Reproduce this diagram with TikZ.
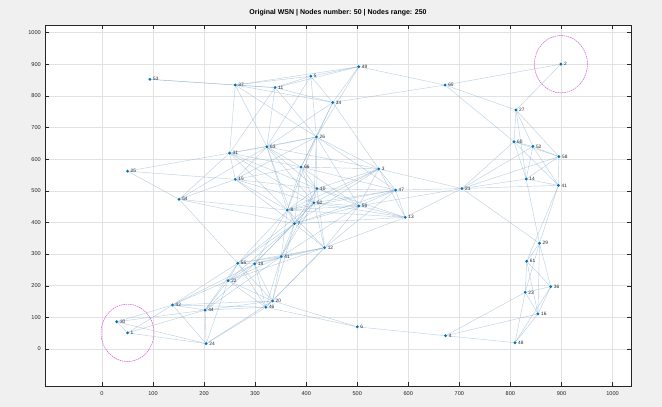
\documentclass[tikz,border=0pt]{standalone}
\usepackage{fontspec}
\setmainfont{Liberation Sans}
\definecolor{figbg}{RGB}{240,240,240}
\definecolor{mblue}{rgb}{0,0.447,0.741}
\definecolor{edgec}{RGB}{125,165,200}
\definecolor{gridc}{RGB}{226,226,226}
\definecolor{circc}{RGB}{215,90,215}
\definecolor{axc}{RGB}{38,38,38}
\pgfdeclarelayer{bg}
\pgfdeclarelayer{edgelayer}
\pgfsetlayers{bg,edgelayer,main}
\tikzset{
 dot/.style={circle, fill=mblue, inner sep=0pt, minimum size=3.2pt},
 lab/.style={font=\fontsize{4.8}{5}\selectfont, text=axc, inner sep=0.4pt, anchor=west},
 edge/.style={draw=edgec, draw opacity=0.5, line width=0.45pt},
 tick/.style={font=\fontsize{5.6}{6}\selectfont, text=axc, inner sep=0pt},
 gridl/.style={draw=gridc, line width=0.45pt},
 tickmark/.style={draw=axc, line width=0.4pt},
 rangec/.style={draw=circc, line width=0.5pt, dash pattern=on 1.6pt off 0.7pt},
}
\def\nodelist{1/53/94/852, 2/37/261/834, 3/11/339/826, 4/5/409/862, 5/49/503/892,
 6/34/452/779, 7/65/672/834, 8/2/899/900, 9/27/811/755, 10/26/420/670,
 11/31/250/619, 12/63/323/639, 13/60/807/655, 14/52/844/640, 15/58/895/608,
 16/66/390/575, 17/3/542/569, 18/15/261/536, 19/14/831/537, 20/41/894/517,
 21/25/50/562, 22/10/421/507, 23/47/575/502, 24/21/705/507, 25/54/151/473,
 26/62/415/462, 27/56/503/452, 28/8/363/439, 29/7/377/396, 30/13/594/416,
 31/12/436/320, 32/41/351/292, 33/55/266/271, 34/18/299/269, 35/22/247/216,
 36/20/334/152, 37/46/321/132, 38/42/138/139, 39/44/202/123, 40/30/29/86,
 41/1/50/51, 42/24/204/17, 43/6/500/70, 44/4/673/42, 45/48/809/20,
 46/16/854/111, 47/23/829/179, 48/36/879/197, 49/61/832/277, 50/29/857/334}
\begin{document}
\begin{tikzpicture}[x=1pt,y=-1pt]
\begin{pgfonlayer}{bg}
\fill[figbg] (0,0) rectangle (662,407);
\fill[white] (45,25) rectangle (631,386);
\foreach \v in {0,100,...,1000} {
  \pgfmathsetmacro\gx{102+0.5105*\v}
  \pgfmathsetmacro\gy{349-0.3165*\v}
  \draw[gridl] (\gx,25) -- (\gx,386);
  \draw[gridl] (45,\gy) -- (631,\gy);
}
\end{pgfonlayer}
\useasboundingbox (0,0) rectangle (662,407);
\foreach \v in {0,100,...,1000} {
  \pgfmathsetmacro\gx{102+0.5105*\v}
  \pgfmathsetmacro\gy{349-0.3165*\v}
  \draw[tickmark] (\gx,386) -- (\gx,382) (\gx,25) -- (\gx,29);
  \draw[tickmark] (45,\gy) -- (49,\gy) (631,\gy) -- (627,\gy);
  \node[tick] (xt\v) at (\gx,393.5) {\v};
  \node[tick, anchor=east] (yt\v) at (41,\gy) {\v};
}
\draw[axc, line width=0.5pt] (45,25) rectangle (631,386);
\node[font=\bfseries\fontsize{7}{8}\selectfont, text=black] (title) at (338,13)
  {Original WSN | Nodes number: 50 | Nodes range: 250};
\begin{scope}[shift={(102,349)}, x=0.5105pt, y=0.3165pt]
 \foreach \i/\nl/\nx/\ny in \nodelist {
   \node[dot] (n\i) at (\nx,\ny) {};
   \node[lab] (t\i) at ([xshift=0.8pt]n\i.east) {\nl};
 }
 \begin{pgfonlayer}{edgelayer}
 \foreach \i/\la/\xa/\ya in \nodelist {
   \foreach \j/\lb/\xb/\yb in \nodelist {
     \pgfmathtruncatemacro\ok{(\j>\i)&&(veclen(\xb-\xa,\yb-\ya)<=250)}
     \ifnum\ok=1 \draw[edge] (n\i) -- (n\j); \fi
   }
 }
 \end{pgfonlayer}
 \draw[rangec] (n8) ellipse [x radius=26.5pt, y radius=28.7pt];
 \draw[rangec] (n41) ellipse [x radius=26.5pt, y radius=28.7pt];
\end{scope}
\end{tikzpicture}
\end{document}
